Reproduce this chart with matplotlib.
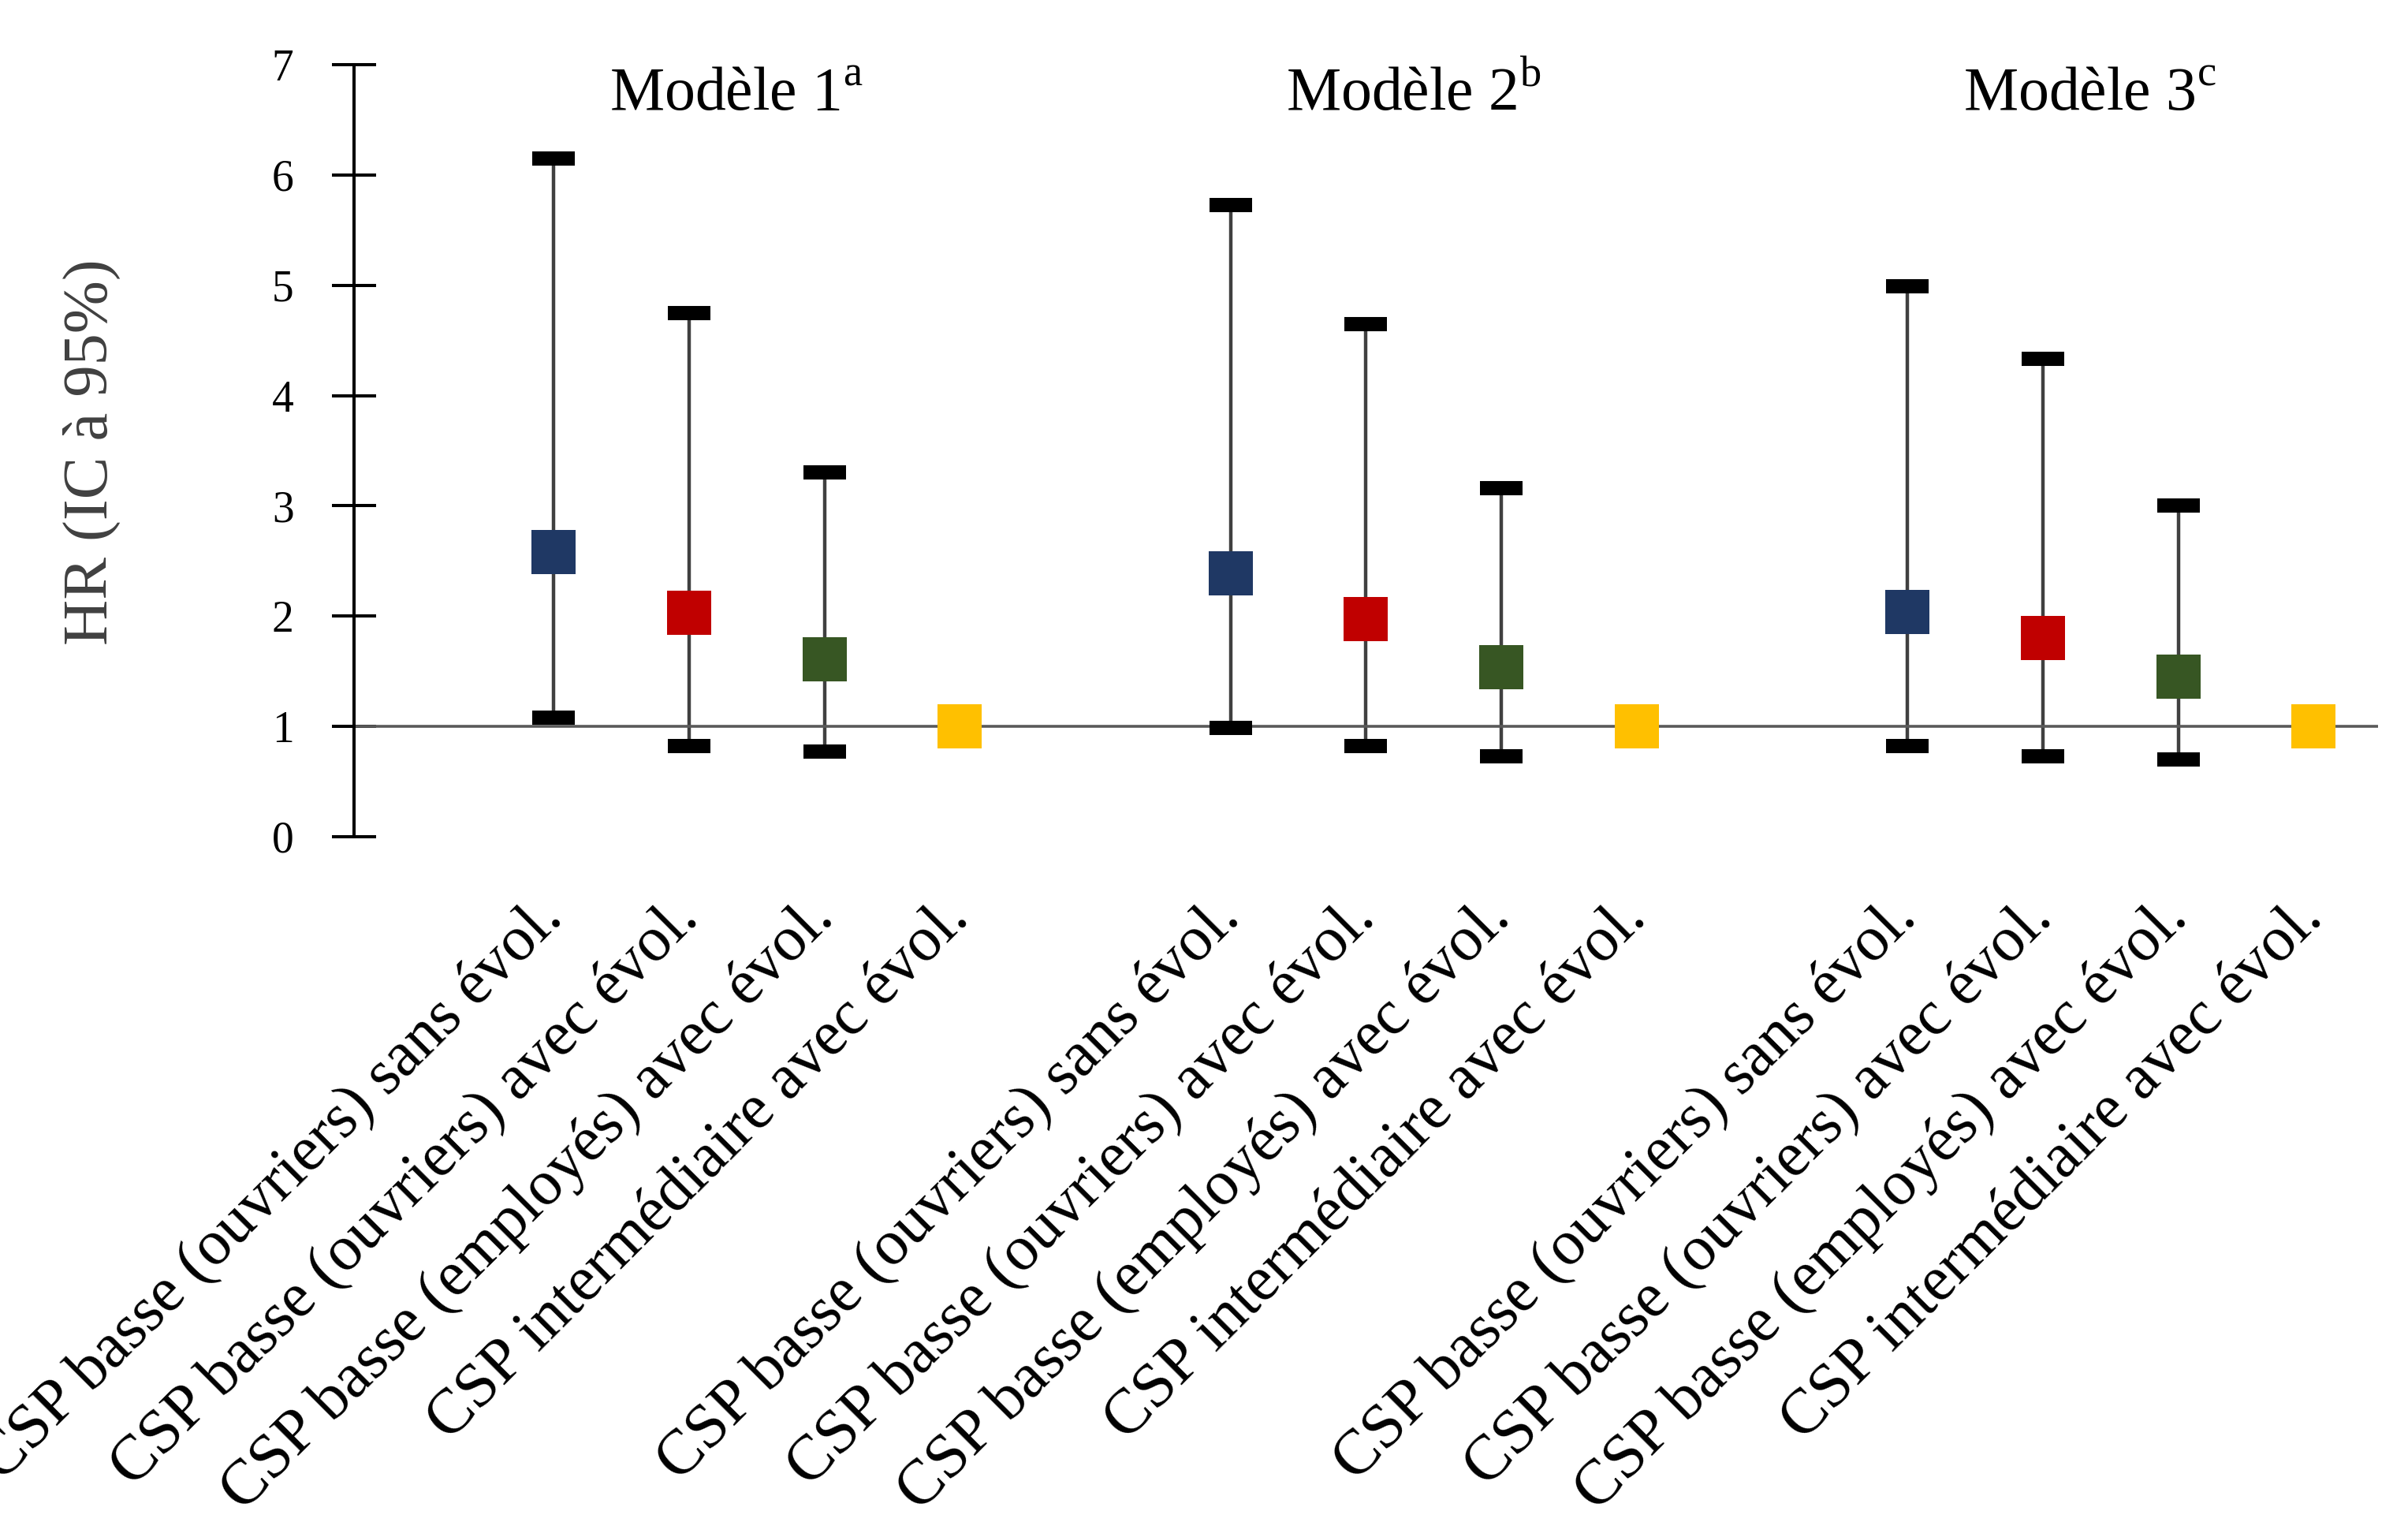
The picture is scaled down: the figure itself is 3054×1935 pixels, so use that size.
import numpy as np
import matplotlib.pyplot as plt

plt.rcParams['font.family'] = ['Liberation Serif', 'DejaVu Serif']
plt.rcParams['mathtext.fontset'] = 'custom'
plt.rcParams['mathtext.rm'] = 'Liberation Serif'

# categories (same four in each model)
categories = ["CSP basse (ouvriers) sans évol.",
              "CSP basse (ouvriers) avec évol.",
              "CSP basse (employés) avec évol.",
              "CSP intermédiaire avec évol."]
models = ["Modèle 1$^{\\mathrm{a}}$", "Modèle 2$^{\\mathrm{b}}$", "Modèle 3$^{\\mathrm{c}}$"]

# hazard ratios and 95% CI (last category = reference, no CI)
hr_m1 = [2.58, 2.03, 1.61, 1.0]
low_m1 = [1.08, 0.82, 0.77]
up_m1 = [6.15, 4.75, 3.30]

hr_m2 = [2.39, 1.97, 1.54, 1.0]
low_m2 = [0.99, 0.82, 0.73]
up_m2 = [5.73, 4.65, 3.16]

hr_m3 = [2.04, 1.80, 1.45, 1.0]
low_m3 = [0.82, 0.73, 0.70]
up_m3 = [4.99, 4.33, 3.00]

colors = ['#1F3864', '#C00000', '#375623', '#FFC000']

hr_all = [hr_m1, hr_m2, hr_m3]
low_all = [low_m1, low_m2, low_m3]
up_all = [up_m1, up_m2, up_m3]

fig = plt.figure(figsize=(30.54, 19.35), dpi=100)
ax = fig.add_axes([0.1470, 0.4517, 0.8405, 0.5059])

ax.axhline(1, color='#595959', lw=2.6, zorder=2.5)

xticks = []
xlabels = []
for g in range(3):
    xs = np.arange(4) + g * 5
    hr = np.array(hr_all[g])
    lo = np.array(low_all[g])
    hi = np.array(up_all[g])
    eb = ax.errorbar(xs[:3], hr[:3], yerr=[hr[:3] - lo, hi - hr[:3]], fmt='none',
                     ecolor='#404040', elinewidth=3.2, capsize=19.5, capthick=13, zorder=2)
    for cl in eb[1]:
        cl.set_markeredgecolor('black')
        cl.set_zorder(3)
    for i in range(4):
        ax.plot(xs[i], hr[i], marker='s', markersize=40, color=colors[i],
                markeredgewidth=0, linestyle='none', zorder=4)
    ax.text(xs.mean() - 0.15, 6.73, models[g], ha='center', va='center', fontsize=56)
    xticks.extend(xs)
    xlabels.extend(categories)

ax.set_xlim(-1.475, 13.475)
ax.set_ylim(0, 7)
ax.set_yticks(range(8))
ax.set_xticks(xticks)
ax.set_xticklabels(xlabels, rotation=45, ha='right', va='center', rotation_mode='anchor', fontsize=58)
ax.tick_params(axis='x', length=0, pad=66)
ax.tick_params(axis='y', direction='inout', length=40, width=2.9, labelsize=40, pad=35)

for s in ['top', 'right', 'bottom']:
    ax.spines[s].set_visible(False)
ax.spines['left'].set_linewidth(2.9)

fig.text(0.038, 0.704, "HR (IC à 95%)", rotation=90, ha='center', va='center',
         fontsize=58, color='#404040')

fig.savefig('out.png', dpi=100)
